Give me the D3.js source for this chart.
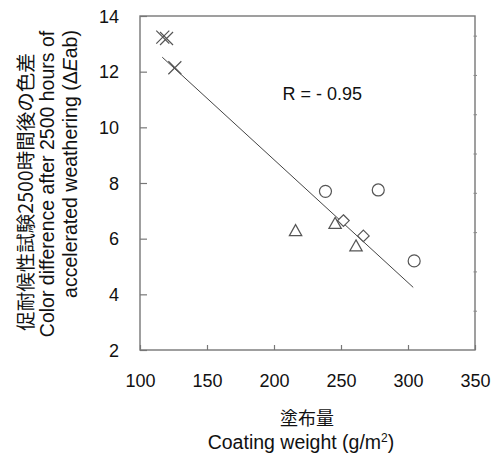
<!DOCTYPE html>
<html>
<head>
<meta charset="utf-8">
<script src="https://cdn.jsdelivr.net/npm/d3@7"></script>
<style>
  body { margin: 0; background: #fff; }
  svg { display: block; font-family: Arial, "Liberation Sans", sans-serif; }
  .tick text { font-size: 18px; fill: #111; }
  .axis-title { font-size: 19.5px; fill: #111; }
  .cjk { font-family: "Noto Sans CJK JP", "Noto Sans CJK SC", sans-serif; }
</style>
</head>
<body>
<svg id="chart" width="495" height="453"></svg>
<script>
// Data
const crosses = [
  { x: 117.0, y: 13.24 },
  { x: 119.8, y: 13.19 },
  { x: 126.0, y: 12.14 },
];
const circles = [
  { x: 238.4, y: 7.70 },
  { x: 277.8, y: 7.75 },
  { x: 304.6, y: 5.20 },
];
const triangles = [
  { x: 216.1, y: 6.29 },
  { x: 245.6, y: 6.55 },
  { x: 261.2, y: 5.74 },
];
const diamonds = [
  { x: 251.8, y: 6.65 },
  { x: 266.7, y: 6.10 },
];
const fitLine = [
  { x: 116.6, y: 12.52 },
  { x: 303.9, y: 4.25 },
];
const xTicks = [100, 150, 200, 250, 300, 350];
const yTicks = [2, 4, 6, 8, 10, 12, 14];
const rightTicks = [1, 2, 3, 4, 5, 6, 7, 8];
const rLabel = 'R = - 0.95';

const svg = d3.select('#chart');
const margins = { left: 140, top: 16, right: 20, bottom: 103 };
const width = 495 - margins.left - margins.right;
const height = 453 - margins.top - margins.bottom;
const ink = '#555';

const x = d3.scaleLinear().domain([100, 350]).range([0, width]);
const y = d3.scaleLinear().domain([2, 14]).range([height, 0]);
const yRight = d3.scaleLinear().domain([0, 8.5]).range([height, 0]);

const g = svg.append('g')
  .attr('transform', `translate(${margins.left}, ${margins.top})`);

// Axes (inward ticks)
const xAxis = d3.axisBottom(x).tickValues(xTicks).tickSizeInner(-5).tickSizeOuter(0).tickPadding(37);
const yAxis = d3.axisLeft(y).tickValues(yTicks).tickSizeInner(-7).tickSizeOuter(0).tickPadding(21);

const xG = g.append('g').attr('transform', `translate(0, ${height})`).call(xAxis);
const yG = g.append('g').call(yAxis);
[xG, yG].forEach(a => {
  a.select('.domain').remove();
  a.selectAll('.tick line').attr('stroke', '#777').attr('stroke-width', 1.2);
});
xG.selectAll('.tick text').attr('dy', '0');
yG.selectAll('.tick text').attr('dy', '0.35em');

// Box frame
g.append('rect')
  .attr('x', 0).attr('y', 0)
  .attr('width', width).attr('height', height)
  .attr('fill', 'none').attr('stroke', '#777').attr('stroke-width', 1.4);

// Faint secondary marks on the right edge
const rG = g.append('g').attr('transform', `translate(${width}, 0)`)
  .call(d3.axisRight(yRight).tickValues(rightTicks).tickSize(2).tickFormat(''));
rG.select('.domain').remove();
rG.selectAll('.tick line').attr('stroke', '#888').attr('x1', -1.5);

// Regression line
g.append('path')
  .datum(fitLine)
  .attr('fill', 'none')
  .attr('stroke', '#444')
  .attr('stroke-width', 1)
  .attr('d', d3.line().x(d => x(d.x)).y(d => y(d.y)));

// Markers
const marks = g.append('g')
  .attr('fill', 'none').attr('stroke', ink).attr('stroke-width', 1.2);

marks.selectAll('path.cross').data(crosses).enter().append('path')
  .attr('class', 'cross')
  .attr('d', d => {
    const cx = x(d.x), cy = y(d.y), s = 6.5;
    return `M${cx - s},${cy - s}L${cx + s},${cy + s}M${cx - s},${cy + s}L${cx + s},${cy - s}`;
  });

marks.selectAll('circle').data(circles).enter().append('circle')
  .attr('cx', d => x(d.x)).attr('cy', d => y(d.y)).attr('r', 6);

marks.selectAll('path.tri').data(triangles).enter().append('path')
  .attr('class', 'tri')
  .attr('d', d => {
    const cx = x(d.x), cy = y(d.y);
    return `M${cx},${cy - 6}L${cx + 6.2},${cy + 5}L${cx - 6.2},${cy + 5}Z`;
  });

marks.selectAll('path.dia').data(diamonds).enter().append('path')
  .attr('class', 'dia')
  .attr('fill', '#fff')
  .attr('d', d => {
    const cx = x(d.x), cy = y(d.y), s = 5.8;
    return `M${cx},${cy - s}L${cx + s},${cy}L${cx},${cy + s}L${cx - s},${cy}Z`;
  });

// R label
g.append('text')
  .attr('x', x(206.4)).attr('y', y(10.98))
  .attr('font-size', 18).attr('fill', '#111')
  .text(rLabel);

// X axis title
svg.append('text')
  .attr('class', 'axis-title cjk')
  .attr('x', 307).attr('y', 425)
  .attr('font-size', 18).style('font-size', '18px')
  .attr('text-anchor', 'middle')
  .text('塗布量');

const xt = svg.append('text')
  .attr('class', 'axis-title')
  .attr('x', 301).attr('y', 449)
  .attr('text-anchor', 'middle');
xt.append('tspan').text('Coating weight (g/m');
xt.append('tspan').attr('font-size', 12).attr('dy', -7).text('2');
xt.append('tspan').attr('dy', 7).text(')');

// Y axis title (three rotated lines)
const yTitle = [
  { text: '促耐候性試験2500時間後の色差', cx: 192, base: 33, cjk: true },
  { text: 'Color difference after 2500 hours of', cx: 184, base: 53.5, cjk: false },
];
yTitle.forEach(l => {
  svg.append('text')
    .attr('class', 'axis-title' + (l.cjk ? ' cjk' : ''))
    .attr('transform', `translate(${l.base}, ${l.cx}) rotate(-90)`)
    .attr('text-anchor', 'middle')
    .text(l.text);
});
const l3 = svg.append('text')
  .attr('class', 'axis-title')
  .attr('transform', `translate(76.5, 164) rotate(-90)`)
  .attr('text-anchor', 'middle');
l3.append('tspan').text('accelerated weathering (Δ');
l3.append('tspan').attr('font-style', 'italic').text('E');
l3.append('tspan').text('ab)');
</script>
</body>
</html>
